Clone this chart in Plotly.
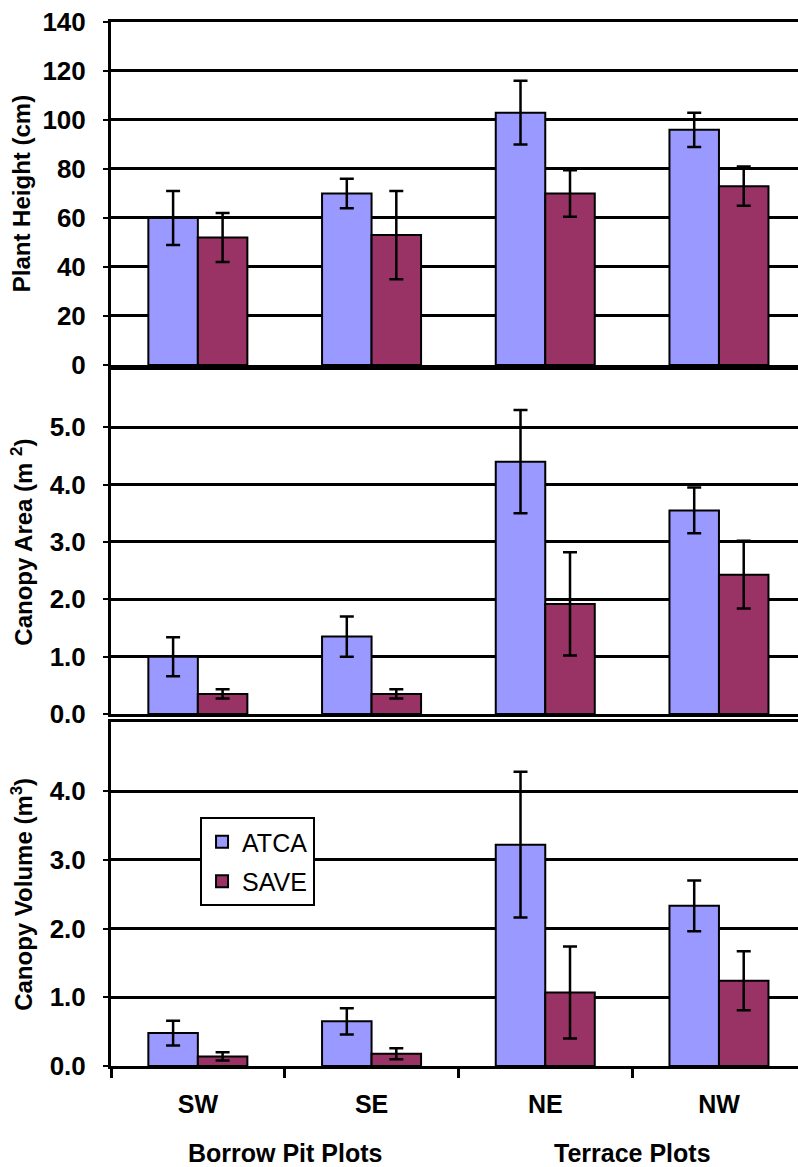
import plotly.graph_objects as go

# Plot locations
plots = ["SW", "SE", "NE", "NW"]
plot_groups = ["Borrow Pit Plots", "Terrace Plots"]

# Plant height (cm): mean and error
height_atca = [60, 70, 103, 96]
height_atca_err = [11, 6, 13, 7]
height_save = [52, 53, 70, 73]
height_save_err = [10, 18, 9.5, 8]

# Canopy area (m2)
area_atca = [1.0, 1.35, 4.4, 3.55]
area_atca_err = [0.34, 0.35, 0.9, 0.4]
area_save = [0.35, 0.35, 1.92, 2.43]
area_save_err = [0.08, 0.08, 0.9, 0.59]

# Canopy volume (m3)
vol_atca = [0.48, 0.65, 3.22, 2.33]
vol_atca_err = [0.18, 0.19, 1.06, 0.37]
vol_save = [0.14, 0.18, 1.07, 1.24]
vol_save_err = [0.06, 0.08, 0.67, 0.43]

ATCA_COLOR = "#9999FF"
SAVE_COLOR = "#993366"

FONT = "Liberation Sans, Arial, sans-serif"

fig = go.Figure()

panels = [
    ("x", "y", height_atca, height_atca_err, height_save, height_save_err, True),
    ("x2", "y2", area_atca, area_atca_err, area_save, area_save_err, False),
    ("x3", "y3", vol_atca, vol_atca_err, vol_save, vol_save_err, False),
]

for xa, ya, a, ae, s, se, show in panels:
    for name, vals, errs, color in (("ATCA", a, ae, ATCA_COLOR), ("SAVE", s, se, SAVE_COLOR)):
        fig.add_trace(go.Bar(
            x=plots, y=vals, name=name, xaxis=xa, yaxis=ya,
            marker=dict(color=color, line=dict(color="black", width=2)),
            error_y=dict(type="data", array=errs, visible=True,
                         color="black", thickness=2.5, width=7),
            showlegend=show, legendgroup=name,
        ))

yaxis_common = dict(
    showgrid=True, gridcolor="black", gridwidth=3,
    showline=True, linecolor="black", linewidth=3,
    ticks="outside", ticklen=5, tickwidth=2, tickcolor="black",
    tickfont=dict(family=FONT, size=26, color="black", weight="bold"),
    ticklabelstandoff=12, zeroline=False, fixedrange=True,
)
xaxis_common = dict(
    type="category", range=[-0.5, 3.455],
    showline=True, linecolor="black", linewidth=3, mirror=True,
    showgrid=False, zeroline=False, fixedrange=True,
)

fig.update_layout(
    width=798, height=1167,
    margin=dict(l=111, r=0, t=22, b=101),
    plot_bgcolor="white", paper_bgcolor="white",
    barmode="group", bargap=0.43, bargroupgap=0,
    font=dict(family=FONT, color="black"),
    xaxis=dict(**xaxis_common, anchor="y", showticklabels=False),
    xaxis2=dict(**xaxis_common, anchor="y2", matches="x", showticklabels=False),
    xaxis3=dict(**xaxis_common, anchor="y3", matches="x",
                tickson="boundaries", ticks="outside", ticklen=9,
                tickwidth=3, tickcolor="black",
                tickfont=dict(family=FONT, size=25, color="black", weight="bold"),
                ticklabelstandoff=14),
    yaxis=dict(**yaxis_common, domain=[0.6715, 1.0], range=[0, 140],
               tickvals=[0, 20, 40, 60, 80, 100, 120, 140]),
    yaxis2=dict(**yaxis_common, domain=[0.3372, 0.6667], range=[0, 6],
                tickvals=[0, 1, 2, 3, 4, 5], tickformat=".1f"),
    yaxis3=dict(**yaxis_common, domain=[0.0, 0.3292], range=[0, 5],
                tickvals=[0, 1, 2, 3, 4], tickformat=".1f"),
    legend=dict(
        x=0.1296, y=0.2385, xanchor="left", yanchor="top",
        xref="paper", yref="paper",
        bgcolor="white", bordercolor="black", borderwidth=2,
        font=dict(family=FONT, size=25, color="black"),
        itemsizing="constant", tracegroupgap=4,
        entrywidth=82, entrywidthmode="pixels",
    ),
)

# Axis titles for each panel
titles = [
    ("Plant Height (cm)", 0.8357),
    ("Canopy Area (m <sup>2</sup>)", 0.5019),
    ("Canopy Volume (m<sup>3</sup>)", 0.1646),
]
for text, yc in titles:
    fig.add_annotation(
        text=text, textangle=-90, xref="paper", yref="paper",
        x=-0.13, y=yc, xanchor="center", yanchor="middle", showarrow=False,
        font=dict(family=FONT, size=24, color="black", weight="bold"),
    )

# Group labels under the category labels
for label, xc in zip(plot_groups, [0.5, 2.5]):
    fig.add_annotation(
        text=label, xref="x3", yref="paper", x=xc, y=-0.0833,
        xanchor="center", yanchor="middle", showarrow=False,
        font=dict(family=FONT, size=25, color="black", weight="bold"),
    )

fig.write_html("out.html")
